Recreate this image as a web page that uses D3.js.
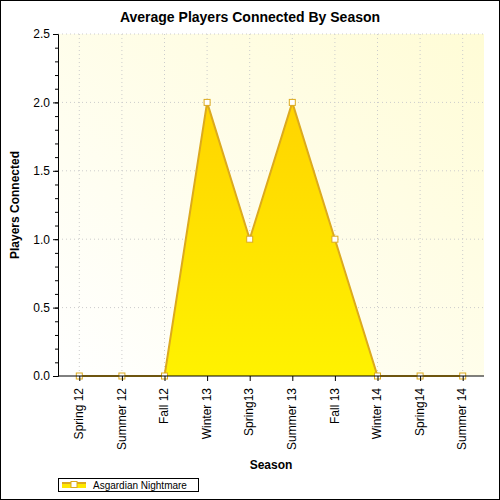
<!DOCTYPE html>
<html><head><meta charset="utf-8">
<script src="https://cdn.jsdelivr.net/npm/d3@7"></script>
<style>body{margin:0}svg{font-family:Arial,"Liberation Sans",sans-serif}</style>
</head><body>
<script>
const seasons = ["Spring 12","Summer 12","Fall 12","Winter 13","Spring13","Summer 13","Fall 13","Winter 14","Spring14","Summer 14"];
const players = [0,0,0,2,1,2,1,0,0,0];
const yTicks = [0,0.5,1,1.5,2,2.5];
const seriesName = "Asgardian Nightmare";

const W = 500, H = 500;
const m = {l:58, r:16, t:34, b:124};
const svg = d3.select("body").append("svg").attr("width", W).attr("height", H);
const defs = svg.append("defs");
const bg = defs.append("linearGradient").attr("id","bg").attr("x1",0).attr("y1",1).attr("x2",1).attr("y2",0);
bg.append("stop").attr("offset","0%").attr("stop-color","#ffffff");
bg.append("stop").attr("offset","100%").attr("stop-color","#fffcd6");
const ag = defs.append("linearGradient").attr("id","ag").attr("x1",0).attr("y1",0).attr("x2",0).attr("y2",1);
ag.append("stop").attr("offset","0%").attr("stop-color","#ffd400");
ag.append("stop").attr("offset","100%").attr("stop-color","#fff200");

svg.append("rect").attr("x",0.5).attr("y",0.5).attr("width",W-1).attr("height",H-1).attr("fill","#fff").attr("stroke","#000");

const x = d3.scalePoint().domain(seasons).range([m.l, W-m.r]).padding(0.5);
const y = d3.scaleLinear().domain([0,2.5]).range([H-m.b, m.t]);

svg.append("rect").attr("x",m.l).attr("y",m.t).attr("width",W-m.r-m.l).attr("height",H-m.b-m.t).attr("fill","url(#bg)");

const g = svg.append("g");
g.selectAll(".vg").data(seasons).join("line")
  .attr("x1",d=>x(d)).attr("x2",d=>x(d)).attr("y1",m.t).attr("y2",H-m.b)
  .attr("stroke","#ccc").attr("stroke-dasharray","1,3");
g.selectAll(".hg").data(yTicks.slice(1)).join("line")
  .attr("x1",m.l).attr("x2",W-m.r).attr("y1",d=>y(d)).attr("y2",d=>y(d))
  .attr("stroke","#ccc").attr("stroke-dasharray","1,3");

const area = d3.area().x((d,i)=>x(seasons[i])).y0(y(0)).y1(d=>y(d));
const line = d3.line().x((d,i)=>x(seasons[i])).y(d=>y(d));
svg.append("path").datum(players).attr("d",area).attr("fill","url(#ag)");
svg.append("path").datum(players).attr("d",line).attr("fill","none").attr("stroke","#dcaa1e").attr("stroke-width",2);
svg.selectAll(".pt").data(players).join("rect")
  .attr("x",(d,i)=>x(seasons[i])-3).attr("y",d=>y(d)-3).attr("width",6).attr("height",6)
  .attr("fill","#fff").attr("stroke","#dcaa1e");

// y axis
const ya = svg.append("g").attr("transform",`translate(${m.l},0)`)
  .call(d3.axisLeft(y).tickValues(yTicks).tickFormat(d3.format(".1f")).tickSize(5));
svg.append("g").attr("transform",`translate(${m.l},0)`)
  .call(d3.axisLeft(y).tickValues(d3.range(0,2.51,0.1)).tickFormat("").tickSize(3))
  .select(".domain").remove();
ya.selectAll("text").attr("font-size",12).attr("fill","#000").attr("font-family","Arial");
svg.selectAll(".domain, .tick line").attr("stroke","#000");

// x axis
const xa = svg.append("g").attr("transform",`translate(0,${H-m.b})`)
  .call(d3.axisBottom(x).tickSize(5).tickSizeOuter(0));
xa.select(".domain").attr("d",`M${m.l},0H${W-m.r}`);
xa.selectAll("text").attr("font-size",12).attr("fill","#000").attr("font-family","Arial")
  .attr("transform","rotate(-90)").attr("text-anchor","end").attr("dx","-12").attr("dy","-0.4em");

svg.append("text").attr("x",W/2).attr("y",22).attr("text-anchor","middle")
  .attr("font-size",14).attr("font-weight","bold").text("Average Players Connected By Season");
svg.append("text").attr("x",(m.l+W-m.r)/2).attr("y",469).attr("text-anchor","middle")
  .attr("font-size",12).attr("font-weight","bold").text("Season");
svg.append("text").attr("transform",`translate(19,${(m.t+H-m.b)/2}) rotate(-90)`).attr("text-anchor","middle")
  .attr("font-size",12).attr("font-weight","bold").text("Players Connected");

// legend
const lg = svg.append("g").attr("transform","translate(58,478)");
lg.append("rect").attr("x",0.5).attr("y",0.5).attr("width",140).attr("height",13).attr("fill","#fff").attr("stroke","#000");
lg.append("rect").attr("x",4).attr("y",4).attr("width",24).attr("height",6).attr("fill","#ffe800");
lg.append("line").attr("x1",4).attr("x2",28).attr("y1",5).attr("y2",5).attr("stroke","#dcaa1e").attr("stroke-width",2);
lg.append("rect").attr("x",13).attr("y",3.5).attr("width",6).attr("height",6).attr("fill","#fff").attr("stroke","#dcaa1e");
lg.append("text").attr("x",35).attr("y",11).attr("font-size",10).text(seriesName);
</script>
</body></html>
